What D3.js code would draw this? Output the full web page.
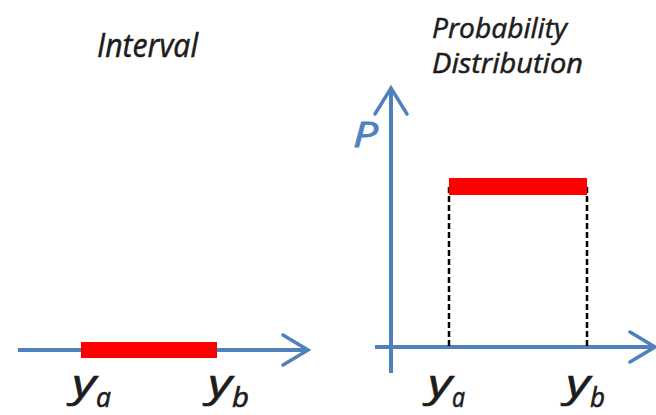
<!DOCTYPE html>
<html>
<head>
<meta charset="utf-8">
<script src="https://cdn.jsdelivr.net/npm/d3@7"></script>
<style>
  body { margin: 0; background: #fff; }
  text { font-family: "Open Sans", Lato, sans-serif; font-style: italic; }
</style>
</head>
<body>
<svg width="656" height="415"></svg>
<script>
// interval end points (in units of the variable y) and the uniform density height
var boundNames = ['a', 'b'];
var boundValues = [1, 2];
var densityValue = [1];
var panelTitles = [['Interval'], ['Probability', 'Distribution']];

var svg = d3.select('svg');
var blue = '#4f81bd';
var red = '#ff0000';
var ink = '#1c1c1c';

// x scales for each panel
var xLeft = d3.scaleLinear().domain([1, 2]).range([81, 217]);
var xRight = d3.scaleLinear().domain([1, 2]).range([449, 587]);
// y scale for the density panel
var yRight = d3.scaleLinear().domain([0, 1]).range([347, 187]);

function arrowRight(g, x, y) {
    g.append('polyline')
        .attr('points', [[x - 25, y - 15], [x, y], [x - 25, y + 15]].join(' '))
        .attr('fill', 'none').attr('stroke', blue).attr('stroke-width', 3.5)
        .attr('stroke-linecap', 'round');
}

function arrowUp(g, x, y) {
    g.append('polyline')
        .attr('points', [[x - 16, y + 26], [x, y], [x + 16, y + 26]].join(' '))
        .attr('fill', 'none').attr('stroke', blue).attr('stroke-width', 3.5)
        .attr('stroke-linecap', 'round');
}

// y_a / y_b labels, x offset from the bound, width of the subscript
function boundLabels(g, scale, dx, widths) {
    g.selectAll('.lbl')
        .data(boundValues)
        .enter()
        .append('text')
        .attr('class', 'lbl')
        .attr('x', function(d) { return scale(d) + dx; })
        .attr('y', 397)
        .attr('fill', ink)
        .attr('stroke', ink).attr('stroke-width', 0.6)
        .each(function(d, i) {
            var t = d3.select(this);
            t.append('tspan').attr('font-size', 38).text('y')
                .attr('textLength', 24).attr('lengthAdjust', 'spacingAndGlyphs');
            t.append('tspan').attr('font-size', 28).attr('dy', 10).text(boundNames[i])
                .attr('textLength', widths[i]).attr('lengthAdjust', 'spacingAndGlyphs');
        });
}

// ---- left panel: interval ----
var left = svg.append('g');
left.append('line')
    .attr('x1', 18).attr('x2', 306)
    .attr('y1', 350).attr('y2', 350)
    .attr('stroke', blue).attr('stroke-width', 4);
arrowRight(left, 308, 350);

left.append('rect')
    .attr('x', xLeft(boundValues[0]))
    .attr('y', 342)
    .attr('width', xLeft(boundValues[1]) - xLeft(boundValues[0]))
    .attr('height', 16)
    .attr('fill', red);

boundLabels(left, xLeft, -9, [15, 17]);

left.append('text')
    .attr('x', 97).attr('y', 57)
    .attr('font-size', 32)
    .attr('textLength', 101).attr('lengthAdjust', 'spacingAndGlyphs')
    .attr('fill', ink)
    .attr('stroke', ink).attr('stroke-width', 0.5)
    .text(panelTitles[0][0]);

// ---- right panel: probability distribution ----
var right = svg.append('g');
right.append('line')
    .attr('x1', 375).attr('x2', 653)
    .attr('y1', 347).attr('y2', 347)
    .attr('stroke', blue).attr('stroke-width', 4);
arrowRight(right, 655, 347);

right.append('line')
    .attr('x1', 391).attr('x2', 391)
    .attr('y1', 373).attr('y2', 90)
    .attr('stroke', blue).attr('stroke-width', 4);
arrowUp(right, 391, 88);

right.append('text')
    .attr('x', 353).attr('y', 147)
    .attr('font-size', 35)
    .attr('textLength', 25).attr('lengthAdjust', 'spacingAndGlyphs')
    .attr('fill', blue)
    .attr('stroke', blue).attr('stroke-width', 0.8)
    .text('P');

// dashed drop lines
right.selectAll('.drop')
    .data(boundValues)
    .enter()
    .append('line')
    .attr('class', 'drop')
    .attr('x1', function(d) { return xRight(d); })
    .attr('x2', function(d) { return xRight(d); })
    .attr('y1', yRight(densityValue[0]))
    .attr('y2', yRight(0))
    .attr('stroke', '#000')
    .attr('stroke-width', 2.5)
    .attr('stroke-dasharray', '6,3');

right.append('rect')
    .attr('x', xRight(boundValues[0]))
    .attr('y', yRight(densityValue[0]) - 9)
    .attr('width', xRight(boundValues[1]) - xRight(boundValues[0]))
    .attr('height', 17)
    .attr('fill', red);

boundLabels(right, xRight, -21, [13, 15]);

var titleWidths = [135, 151];
var titleBase = [38, 73];
right.selectAll('.title')
    .data(panelTitles[1])
    .enter()
    .append('text')
    .attr('class', 'title')
    .attr('x', 432)
    .attr('y', function(d, i) { return titleBase[i]; })
    .attr('font-size', 28)
    .attr('textLength', function(d, i) { return titleWidths[i]; })
    .attr('lengthAdjust', 'spacingAndGlyphs')
    .attr('fill', ink)
    .attr('stroke', ink).attr('stroke-width', 0.5)
    .text(function(d) { return d; });
</script>
</body>
</html>
